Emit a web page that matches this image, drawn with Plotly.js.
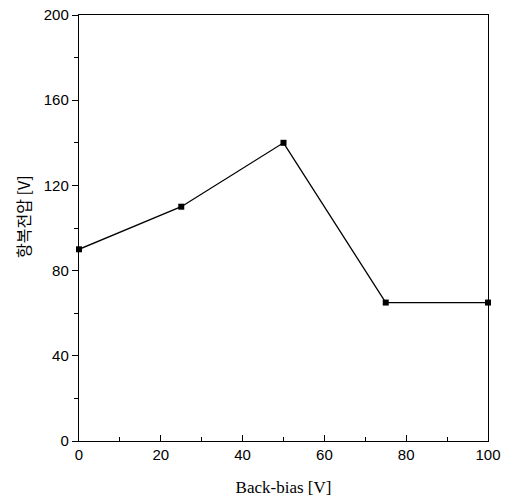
<!DOCTYPE html>
<html>
<head>
<meta charset="utf-8">
<script src="https://cdn.plot.ly/plotly-3.0.1.min.js"></script>
<style>html,body{margin:0;padding:0;background:#fff;}#chart{width:511px;height:504px;}</style>
</head>
<body>
<div id="chart"></div>
<script>
const backBias = [0, 25, 50, 75, 100];
const breakdownVoltage = [90, 110, 140, 65, 65];
const xTickVals = [0, 20, 40, 60, 80, 100];
const yTickVals = [0, 40, 80, 120, 160, 200];
const yTitle = '항복전압 [V]';

const trace = {
  x: backBias,
  y: breakdownVoltage,
  type: 'scatter',
  mode: 'lines+markers',
  line: {color: '#000', width: 1.3},
  marker: {symbol: 'square', size: 6, color: '#000'},
  cliponaxis: false,
  hoverinfo: 'skip'
};

const layout = {
  width: 511, height: 504,
  margin: {l: 79, r: 23, t: 15, b: 63},
  paper_bgcolor: '#fff', plot_bgcolor: '#fff',
  showlegend: false,
  xaxis: {
    range: [0, 100],
    tickvals: xTickVals,
    ticks: 'inside', ticklen: 6, tickcolor: '#000', tickwidth: 1,
    minor: {dtick: 10, ticks: 'inside', ticklen: 4, tickcolor: '#000'},
    showline: true, linecolor: '#000', linewidth: 1.2, mirror: true,
    showgrid: false, zeroline: false,
    tickfont: {family: 'Liberation Sans, Arial', size: 15, color: '#000'},
    title: {text: 'Back-bias [V]', font: {family: 'Liberation Serif, Times New Roman', size: 17, color: '#000'}, standoff: 18}
  },
  yaxis: {
    range: [0, 200],
    tickvals: yTickVals,
    ticks: 'outside', ticklen: 6, tickcolor: '#000', tickwidth: 1,
    minor: {dtick: 20, ticks: 'outside', ticklen: 4, tickcolor: '#000'},
    showline: true, linecolor: '#000', linewidth: 1.2, mirror: true,
    showgrid: false, zeroline: false,
    tickfont: {family: 'Liberation Sans, Arial', size: 15, color: '#000'}
  },
  annotations: [{
    text: yTitle,
    xref: 'paper', yref: 'paper',
    x: -0.137, y: 0.526,
    xanchor: 'center', yanchor: 'middle',
    textangle: -90, showarrow: false,
    font: {family: 'Noto Sans CJK KR', size: 16, color: '#000'}
  }]
};

Plotly.newPlot('chart', [trace], layout, {staticPlot: true, displayModeBar: false});
</script>
</body>
</html>
